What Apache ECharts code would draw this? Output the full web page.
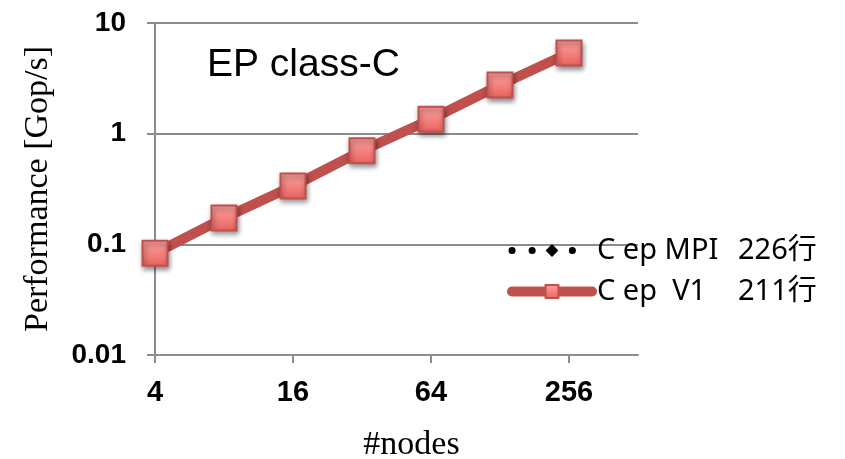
<!DOCTYPE html>
<html>
<head>
<meta charset="utf-8">
<script src="https://cdn.jsdelivr.net/npm/echarts@6/dist/echarts.min.js"></script>
<style>
  html, body { margin: 0; padding: 0; background: #fff; }
  #chart { width: 845px; height: 459px; }
</style>
</head>
<body>
<div id="chart"></div>
<script>
// Node counts along the x axis (powers of two); 512 closes the axis range.
const nodes = ['4', '8', '16', '32', '64', '128', '256', '512'];
// Measured performance in Gop/s per node count
const perfMPI = [0.083, 0.173, 0.337, 0.70, 1.35, 2.75, 5.35];
const perfV1  = [0.083, 0.173, 0.337, 0.70, 1.35, 2.75, 5.35];
// Y axis decade labels
const yTicks = ['0.01', '0.1', '1', '10'];
// Legend names and line counts
const seriesNames = ['C ep MPI', 'C ep  V1'];
const lineCounts = ['226行', '211行'];

const chart = echarts.init(document.getElementById('chart'));
const sansFont = '"Noto Sans", "Noto Sans CJK JP", sans-serif';
const boldFont = '"Liberation Sans", Arial, sans-serif';
const serifFont = '"Liberation Serif", "Times New Roman", serif';

const markerFill = new echarts.graphic.LinearGradient(0, 0, 0, 1, [
  { offset: 0, color: '#ffa3a0' },
  { offset: 1, color: '#e8615e' }
]);

chart.setOption({
  animation: false,
  backgroundColor: '#fff',
  title: {
    text: 'EP class-C',
    left: 202,
    top: 41,
    textStyle: { fontFamily: boldFont, fontSize: 39, fontWeight: 'normal', color: '#000' }
  },
  grid: { left: 155, right: 207, top: 23, bottom: 104, containLabel: false, outerBoundsMode: 'none' },
  legend: {
    orient: 'vertical',
    left: 502,
    top: 231,
    itemWidth: 80,
    itemHeight: 16,
    itemGap: 12,
    data: [
      {
        name: seriesNames[0],
        lineStyle: { width: 7, type: [0.1, 20], cap: 'round', color: '#000' }
      },
      {
        name: seriesNames[1],
        lineStyle: { width: 10, cap: 'round', color: '#c0504d' }
      }
    ],
    formatter: function (name) {
      const i = seriesNames.indexOf(name);
      return '{a|' + name + '}{b|' + lineCounts[i] + '}';
    },
    textStyle: {
      rich: {
        a: { fontFamily: sansFont, fontSize: 29, color: '#000', width: 141 },
        b: { fontFamily: sansFont, fontSize: 29, color: '#000' }
      }
    }
  },
  xAxis: {
    type: 'category',
    data: nodes,
    boundaryGap: false,
    name: '#nodes',
    nameLocation: 'middle',
    nameGap: 73,
    nameTextStyle: { fontFamily: serifFont, fontSize: 34, color: '#000', padding: [0, 0, 0, 30] },
    axisLine: { lineStyle: { color: '#8c8c8c', width: 2 } },
    axisTick: { show: true, interval: 1, length: 8, lineStyle: { color: '#8c8c8c', width: 2 } },
    axisLabel: {
      interval: 1,
      margin: 23,
      fontFamily: boldFont,
      fontWeight: 'bold',
      fontSize: 29,
      color: '#000'
    },
    splitLine: { show: false }
  },
  yAxis: {
    type: 'log',
    logBase: 10,
    min: 0.01,
    max: 10,
    name: 'Performance [Gop/s]',
    nameLocation: 'middle',
    nameGap: 100,
    nameTextStyle: { fontFamily: serifFont, fontSize: 34, color: '#000' },
    axisLine: { show: true, lineStyle: { color: '#8c8c8c', width: 2 } },
    axisTick: { show: true, inside: false, length: 8, lineStyle: { color: '#8c8c8c', width: 2 } },
    axisLabel: {
      margin: 29,
      fontFamily: boldFont,
      fontWeight: 'bold',
      fontSize: 28,
      color: '#000',
      formatter: function (v) {
        const e = Math.round(Math.log10(v));
        return yTicks[e + 2];
      }
    },
    splitLine: { show: true, lineStyle: { color: '#8c8c8c', width: 2 } }
  },
  series: [
    {
      name: seriesNames[0],
      type: 'line',
      data: perfMPI,
      z: 2,
      symbol: 'diamond',
      symbolSize: 15,
      itemStyle: { color: '#000' },
      lineStyle: { color: '#000', width: 6, type: [0.1, 21], cap: 'round' }
    },
    {
      name: seriesNames[1],
      type: 'line',
      data: perfV1,
      z: 3,
      symbol: 'rect',
      symbolSize: 25,
      itemStyle: {
        color: markerFill,
        borderColor: '#c0504d',
        borderWidth: 2,
        shadowBlur: 5,
        shadowOffsetX: 1,
        shadowOffsetY: 3,
        shadowColor: 'rgba(0,0,0,0.45)'
      },
      lineStyle: { color: '#c0504d', width: 10, cap: 'round' }
    }
  ]
});
</script>
</body>
</html>
